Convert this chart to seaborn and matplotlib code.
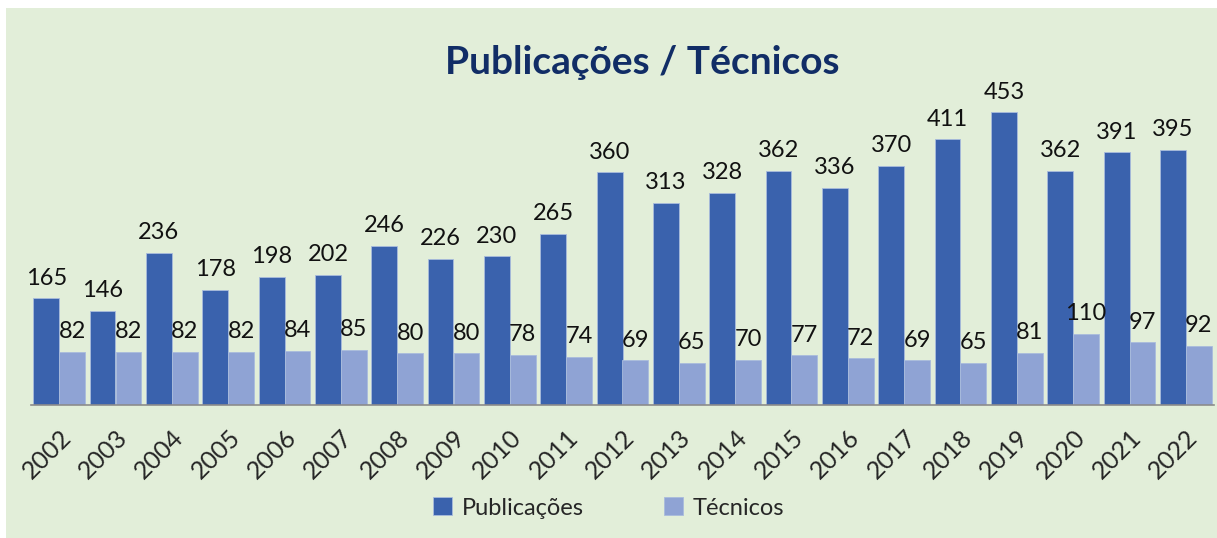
"""Publicações / Técnicos bar chart."""

import matplotlib.pyplot as plt
import pandas as pd
import seaborn as sns
from matplotlib.patches import Rectangle

years = [str(y) for y in range(2002, 2023)]
publicacoes = [165, 146, 236, 178, 198, 202, 246, 226, 230, 265, 360,
               313, 328, 362, 336, 370, 411, 453, 362, 391, 395]
tecnicos = [82, 82, 82, 82, 84, 85, 80, 80, 78, 74, 69,
            65, 70, 77, 72, 69, 65, 81, 110, 97, 92]

df = pd.DataFrame({
    "ano": years * 2,
    "valor": publicacoes + tecnicos,
    "serie": ["Publicações"] * len(years) + ["Técnicos"] * len(years),
})

BG = "#E2EED9"
DARK = "#3A62AD"
LIGHT = "#8FA3D4"

sns.set_style("white")
plt.rcParams["font.family"] = ["Lato", "DejaVu Sans"]

fig = plt.figure(figsize=(12.17, 5.38), dpi=100)
fig.patches.append(Rectangle((6 / 1217, 0), 1 - 6 / 1217, 1 - 8 / 538,
                             transform=fig.transFigure, facecolor=BG,
                             edgecolor="none", zorder=-10))
ax = fig.add_axes([31 / 1217, 1 - 405 / 538, (1214 - 31) / 1217,
                   (405 - 82) / 538])
ax.set_zorder(1)
ax.set_facecolor("none")

sns.barplot(df, x="ano", y="valor", hue="serie", ax=ax,
            palette=[DARK, LIGHT], width=0.92, saturation=1,
            edgecolor="#A9BCDD", linewidth=0.6, legend=True)

for cont in ax.containers:
    ax.bar_label(cont, fontsize=17, padding=7, color="#111111")

ax.set_ylim(0, 500)
ax.set_xlim(-0.5, len(years) - 0.5)
ax.set_xlabel("")
ax.set_ylabel("")
ax.set_yticks([])
for side in ["top", "right", "left"]:
    ax.spines[side].set_visible(False)
ax.spines["bottom"].set_color("#8c8c8c")
ax.spines["bottom"].set_linewidth(1.2)

ax.set_xticks(range(len(years)))
ax.set_xticklabels(years, rotation=45, ha="right", va="top",
                   rotation_mode="anchor", fontsize=18)
ax.tick_params(axis="x", which="major", length=0, pad=15)
ax.set_xticks([i - 0.5 for i in range(len(years) + 1)], minor=True)
ax.tick_params(axis="x", which="minor", length=8, width=1.2,
               color="#8c8c8c", direction="out")

handles, labels = ax.get_legend_handles_labels()
ax.get_legend().remove()
fig.legend(handles, labels, loc="center", bbox_to_anchor=(0.5, 1 - 508 / 538),
           ncol=2, frameon=False, fontsize=17, handlelength=0.8,
           handleheight=0.8, columnspacing=3.4, handletextpad=0.4)

fig.text(0.528, 1 - 62 / 538, "Publicações / Técnicos", ha="center",
         va="center", fontsize=28, fontweight="bold", color="#112D66")

plt.savefig("out.png", dpi=100)
